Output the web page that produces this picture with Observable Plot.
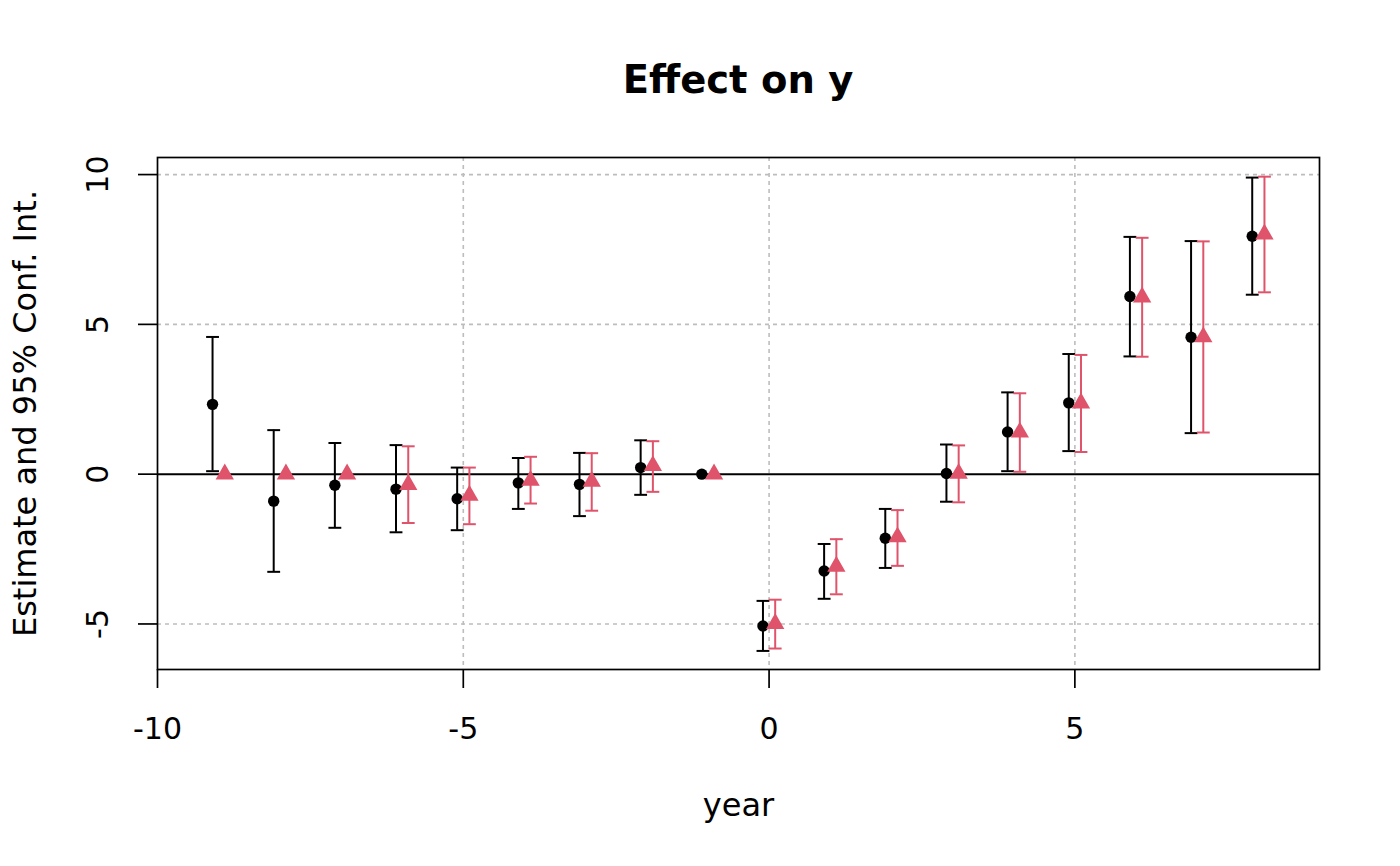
<!DOCTYPE html>
<html>
<head>
<meta charset="utf-8">
<script src="https://cdn.jsdelivr.net/npm/d3@7"></script>
<script src="https://cdn.jsdelivr.net/npm/@observablehq/plot@0.6"></script>
<style>
  html, body { margin: 0; padding: 0; background: white; }
  #wrap { width: 1400px; height: 866px; position: relative; overflow: hidden; font-family: "DejaVu Sans", sans-serif; }
  #title { position: absolute; left: 157px; width: 1162px; top: 61px; text-align: center; font-size: 38.5px; line-height: 38px; font-weight: bold; color: black; }
  #chart { position: absolute; left: 0; top: 120px; }
</style>
</head>
<body>
<div id="wrap">
  <div id="title">Effect on y</div>
  <div id="chart"></div>
</div>
<script>
// Event-study years
const years = [-9, -8, -7, -6, -5, -4, -3, -2, -1, 0, 1, 2, 3, 4, 5, 6, 7, 8];

// Series 1 (black circles)
const est1 = [2.33, -0.90, -0.37, -0.50, -0.82, -0.29, -0.34, 0.22, 0.00, -5.07, -3.23, -2.14, 0.02, 1.41, 2.38, 5.93, 4.57, 7.94];
const lo1  = [0.10, -3.26, -1.79, -1.94, -1.87, -1.16, -1.40, -0.69, null, -5.90, -4.16, -3.13, -0.92, 0.10, 0.77, 3.93, 1.37, 5.99];
const hi1  = [4.58, 1.47, 1.04, 0.97, 0.22, 0.54, 0.71, 1.13, null, -4.23, -2.33, -1.16, 0.99, 2.73, 4.01, 7.92, 7.78, 9.90];

// Series 2 (red triangles)
const est2 = [0.00, 0.00, 0.00, -0.35, -0.71, -0.21, -0.24, 0.28, 0.00, -4.99, -3.08, -2.10, 0.02, 1.40, 2.37, 5.91, 4.58, 8.01];
const lo2  = [null, null, null, -1.63, -1.67, -0.98, -1.22, -0.59, null, -5.82, -4.01, -3.06, -0.94, 0.08, 0.74, 3.92, 1.39, 6.07];
const hi2  = [null, null, null, 0.93, 0.22, 0.58, 0.70, 1.10, null, -4.19, -2.17, -1.20, 0.96, 2.70, 3.98, 7.89, 7.77, 9.93];

const xTicks = [-10, -5, 0, 5];
const yTicks = [-5, 0, 5, 10];
const gridX = [-5, 0, 5];
const gridY = [-5, 5, 10];

const black = "black";
const red = "#DF536B";
const shift = 0.1;   // horizontal dodge between the two series
const capHalf = 0.105;

const s1 = years.map((yr, i) => ({x: yr - shift, est: est1[i], lo: lo1[i], hi: hi1[i]}));
const s2 = years.map((yr, i) => ({x: yr + shift, est: est2[i], lo: lo2[i], hi: hi2[i]}));
const ci1 = s1.filter(d => d.lo != null);
const ci2 = s2.filter(d => d.lo != null);

function bars(data, color) {
  return [
    Plot.ruleX(data, {x: "x", y1: "lo", y2: "hi", stroke: color, strokeWidth: 2}),
    Plot.link(data, {x1: d => d.x - capHalf, x2: d => d.x + capHalf, y1: "lo", y2: "lo", stroke: color, strokeWidth: 2}),
    Plot.link(data, {x1: d => d.x - capHalf, x2: d => d.x + capHalf, y1: "hi", y2: "hi", stroke: color, strokeWidth: 2})
  ];
}

const grid = {stroke: "#bdbdbd", strokeWidth: 1.6, strokeDasharray: "4,4"};

const plot = Plot.plot({
  width: 1400,
  height: 746,
  marginLeft: 157,
  marginRight: 81,
  marginTop: 37,
  marginBottom: 197,
  style: {fontFamily: "DejaVu Sans", fontSize: "30px", background: "white", color: "black", overflow: "visible"},
  x: {domain: [-10, 9.0]},
  y: {domain: [-6.52, 10.57]},
  marks: [
    Plot.ruleX(gridX, grid),
    Plot.ruleY(gridY, grid),
    Plot.ruleY([0], {stroke: "black", strokeWidth: 2}),
    ...bars(ci1, black),
    ...bars(ci2, red),
    Plot.dot(s1, {x: "x", y: "est", r: 5.7, fill: black, stroke: "none"}),
    Plot.dot(s2, {x: "x", y: "est", r: 6.8, symbol: "triangle", fill: red, stroke: "none"}),
    Plot.frame({stroke: "black", strokeWidth: 1.7}),
    Plot.axisX({ticks: xTicks, tickSize: 19, tickPadding: 29, tickFormat: d => String(d), label: null, strokeWidth: 1.7, fontSize: 30}),
    Plot.axisY({ticks: yTicks, tickSize: 19, tickFormat: () => "", label: null, strokeWidth: 1.7}),
    Plot.text(yTicks, {y: d => d, frameAnchor: "left", dx: -59, rotate: -90, text: d => String(d), textAnchor: "middle", lineAnchor: "middle", fontSize: 30, fill: "black"}),
    Plot.text(["year"], {frameAnchor: "bottom", dy: 136, text: d => d, textAnchor: "middle", lineAnchor: "middle", fontSize: 32, fill: "black"}),
    Plot.text(["Estimate and 95% Conf. Int."], {frameAnchor: "left", dx: -132, rotate: -90, text: d => d, textAnchor: "middle", lineAnchor: "middle", fontSize: 32, fill: "black"})
  ]
});
document.getElementById("chart").appendChild(plot);
</script>
</body>
</html>
